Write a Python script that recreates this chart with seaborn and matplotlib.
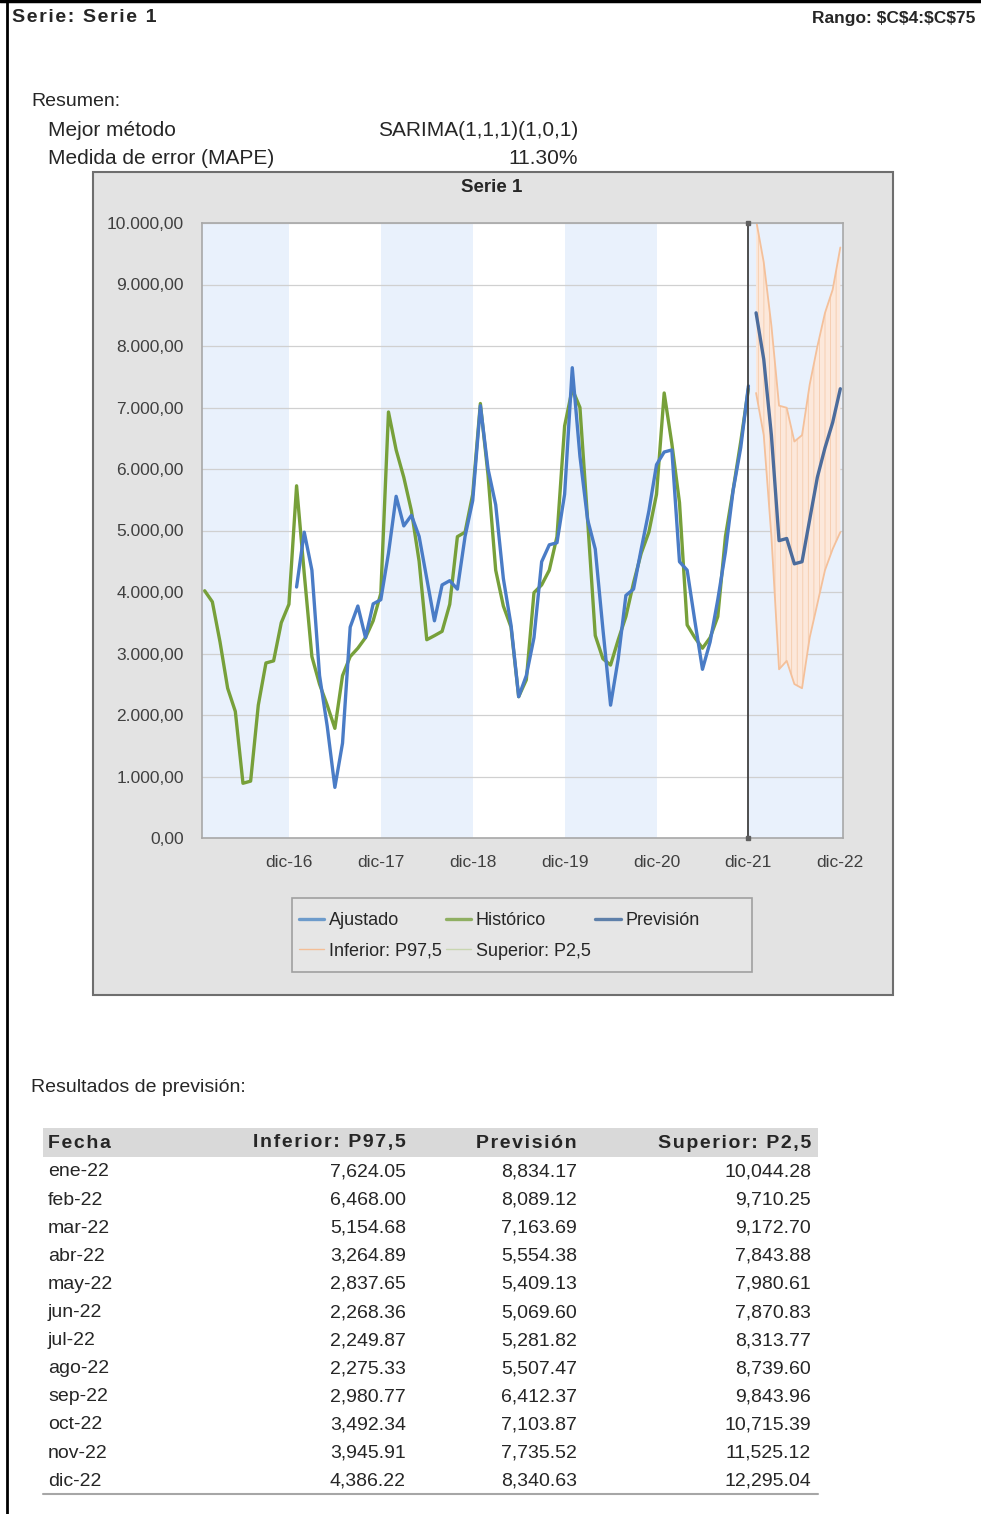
import numpy as np
import pandas as pd
import matplotlib
matplotlib.use("Agg")
import matplotlib.pyplot as plt
import seaborn as sns
from matplotlib.patches import Rectangle
from matplotlib.lines import Line2D
from matplotlib.ticker import FuncFormatter, FixedLocator, MultipleLocator
from matplotlib import font_manager

# ---------------- data ----------------
historico = [4020, 3840, 3190, 2435, 2058, 890, 925, 2160, 2846, 2880, 3500, 3800,
             5727, 4300, 2950, 2500, 2160, 1783, 2640, 2950, 3086, 3258, 3532, 3978,
             6927, 6310, 5864, 5316, 4500, 3224, 3290, 3360, 3800, 4900, 4973, 5590,
             7065, 5900, 4355, 3772, 3429, 2298, 2572, 3990, 4115, 4355, 4900, 6700,
             7300, 7000, 5178, 3292, 2915, 2812, 3224, 3600, 4150, 4630, 4973, 5590,
             7236, 6413, 5453, 3464, 3258, 3086, 3258, 3600, 4904, 5658, 6447, 7305]
ajustado = [4081, 4973, 4355, 2641, 1818, 823, 1543, 3429, 3772, 3258, 3807, 3875,
            4630, 5556, 5075, 5247, 4904, 4218, 3532, 4115, 4184, 4047, 4904, 5487,
            7030, 6001, 5418, 4218, 3464, 2298, 2641, 3258, 4492, 4767, 4801, 5590,
            7647, 6207, 5178, 4698, 3395, 2160, 2915, 3944, 4047, 4698, 5316, 6070,
            6276, 6310, 4492, 4355, 3532, 2743, 3189, 3875, 4650, 5650, 6350, 7350]
prevision = [8539, 7785, 6550, 4835, 4870, 4458, 4492, 5178, 5864, 6345, 6756, 7305]
inferior = [7236, 6550, 4904, 2743, 2880, 2503, 2435, 3258, 3807, 4355, 4698, 4973]
superior = [10050, 9362, 8333, 7030, 6996, 6447, 6550, 7373, 7990, 8539, 8916, 9602]

x_ticklabels = ["dic-16", "dic-17", "dic-18", "dic-19", "dic-20", "dic-21", "dic-22"]

tabla_fecha = ["ene-22", "feb-22", "mar-22", "abr-22", "may-22", "jun-22",
               "jul-22", "ago-22", "sep-22", "oct-22", "nov-22", "dic-22"]
tabla_inferior = [7624.05, 6468.00, 5154.68, 3264.89, 2837.65, 2268.36,
                  2249.87, 2275.33, 2980.77, 3492.34, 3945.91, 4386.22]
tabla_prevision = [8834.17, 8089.12, 7163.69, 5554.38, 5409.13, 5069.60,
                   5281.82, 5507.47, 6412.37, 7103.87, 7735.52, 8340.63]
tabla_superior = [10044.28, 9710.25, 9172.70, 7843.88, 7980.61, 7870.83,
                  8313.77, 8739.60, 9843.96, 10715.39, 11525.12, 12295.04]

# ---------------- styling ----------------
sns.set_theme(style="white")
plt.rcParams["font.family"] = ["Liberation Sans", "DejaVu Sans"]
plt.rcParams["hatch.linewidth"] = 0.6

names = {f.name for f in font_manager.fontManager.ttflist}
narrow = "Liberation Sans Narrow" if "Liberation Sans Narrow" in names else None

W, H = 981, 1514
fig = plt.figure(figsize=(W / 100, H / 100), dpi=100)
fig.patch.set_facecolor("white")


def fx(x):
    return x / W


def fy(y):
    return 1 - y / H


def spaced(s):
    return "\u200a".join(s)


# page borders
fig.add_artist(Line2D([fx(7), fx(7)], [0, 1], color="black", lw=2, transform=fig.transFigure))
fig.add_artist(Line2D([0, 1], [fy(1), fy(1)], color="black", lw=2.5, transform=fig.transFigure))

# header
if narrow:
    hfam = [narrow, "Liberation Sans", "DejaVu Sans"]
    fig.text(fx(12), fy(18), spaced("Serie: Serie 1"), fontsize=15, fontweight="bold",
             family=hfam, ha="left", va="center", parse_math=False)
    fig.text(fx(975), fy(18), spaced("Rango: $C$4:$C$75"), fontsize=15, fontweight="bold",
             family=hfam, ha="right", va="center", parse_math=False)
else:
    fig.text(fx(12), fy(18), spaced("Serie: Serie 1"), fontsize=14, fontweight="bold",
             ha="left", va="center", parse_math=False)
    fig.text(fx(975), fy(18), "Rango: $C$4:$C$75", fontsize=12.5, fontweight="bold",
             ha="right", va="center", parse_math=False)

fs = 14
fs2 = 15
fig.text(fx(31), fy(102), "Resumen:", fontsize=fs, ha="left", va="center")
fig.text(fx(48), fy(130), "Mejor método", fontsize=fs2, ha="left", va="center")
fig.text(fx(48), fy(158), "Medida de error (MAPE)", fontsize=fs2, ha="left", va="center")
fig.text(fx(578), fy(130), "SARIMA(1,1,1)(1,0,1)", fontsize=fs2, ha="right", va="center")
fig.text(fx(578), fy(158), "11.30%", fontsize=fs2, ha="right", va="center")

# chart frame
frame = Rectangle((fx(93), fy(995)), (893 - 93) / W, (995 - 172) / H, transform=fig.transFigure,
                  facecolor="#E3E3E3", edgecolor="#6E6E6E", lw=1.5, zorder=0.5)
fig.add_artist(frame)
fig.text(fx(492), fy(187), "Serie 1", fontsize=13.5, fontweight="bold", ha="center", va="center",
         color="#262626", zorder=3)

ax = fig.add_axes([fx(202), fy(838), (843 - 202) / W, (838 - 223) / H])
ax.set_zorder(2)
ax.set_facecolor("white")

n_hist = len(historico)
mes_hist = np.arange(n_hist)
mes_aj = np.arange(n_hist - len(ajustado), n_hist)
mes_prev = np.arange(n_hist, n_hist + len(prevision))

x_left, x_right = -0.35, 83.35
# alternating year bands
bounds = [x_left, 11, 23, 35, 47, 59, 71, x_right]
for k in range(len(bounds) - 1):
    if k % 2 == 0:
        ax.axvspan(bounds[k], bounds[k + 1], color="#E9F1FC", lw=0, zorder=0)

ax.set_xlim(x_left, x_right)
ax.set_ylim(0, 10000)
ax.yaxis.set_major_locator(MultipleLocator(1000))
ax.grid(axis="y", color="#D0D0D0", lw=0.9, zorder=0.5)
ax.set_axisbelow(True)

# forecast band
ax.fill_between(mes_prev, inferior, superior, facecolor="#FCE8DB", edgecolor="#F5CBAB",
                hatch="|||", lw=0, zorder=1)

df_band = pd.DataFrame({
    "mes": np.concatenate([mes_prev, mes_prev]),
    "valor": inferior + superior,
    "serie": ["Inferior: P97,5"] * len(inferior) + ["Superior: P2,5"] * len(superior),
})
sns.lineplot(data=df_band, x="mes", y="valor", hue="serie",
             palette={"Inferior: P97,5": "#F4C09A", "Superior: P2,5": "#F4C09A"},
             lw=1.3, legend=False, ax=ax, zorder=2)

df = pd.DataFrame({
    "mes": np.concatenate([mes_hist, mes_aj, mes_prev]),
    "valor": historico + ajustado + prevision,
    "serie": ["Histórico"] * n_hist + ["Ajustado"] * len(ajustado) + ["Previsión"] * len(prevision),
})
colors = {"Histórico": "#77A03A", "Ajustado": "#4A7CC6", "Previsión": "#4C6C9C"}
sns.lineplot(data=df, x="mes", y="valor", hue="serie", palette=colors,
             lw=2.4, legend=False, ax=ax, zorder=3)

ax.axvline(71, color="#404040", lw=1.3, zorder=4)
ax.plot([71, 71], [0, 10000], ls="none", marker="s", ms=3, color="#606060", zorder=4, clip_on=False)

ax.set_xlabel("")
ax.set_ylabel("")
ax.xaxis.set_major_locator(FixedLocator([11, 23, 35, 47, 59, 71, 83]))
ax.set_xticklabels(x_ticklabels)
ax.yaxis.set_major_formatter(FuncFormatter(
    lambda v, p: f"{v:,.2f}".replace(",", "X").replace(".", ",").replace("X", ".")))
ax.tick_params(axis="both", length=0, labelsize=12.5, colors="#404040")
ax.tick_params(axis="y", pad=13)
ax.tick_params(axis="x", pad=12)
for s in ax.spines.values():
    s.set_color("#A8A8A8")
    s.set_linewidth(1.2)

# legend box + legend
fig.add_artist(Rectangle((fx(292), fy(972)), (752 - 292) / W, (972 - 898) / H,
                         transform=fig.transFigure, facecolor="#E6E6E6", edgecolor="#A0A0A0",
                         lw=1.2, zorder=4))
handles = [
    Line2D([], [], color="#6D9BCB", lw=2.4),
    Line2D([], [], color="#F4BE96", lw=1.0),
    Line2D([], [], color="#8FAF62", lw=2.4),
    Line2D([], [], color="#C8D6B0", lw=1.0),
    Line2D([], [], color="#5E80AA", lw=2.4),
]
labels = ["Ajustado", "Inferior: P97,5", "Histórico", "Superior: P2,5", "Previsión"]
leg = fig.legend(handles, labels, loc="upper left", ncol=3,
                 bbox_to_anchor=(fx(299), fy(912)),
                 bbox_transform=fig.transFigure, fontsize=13, frameon=False,
                 handlelength=1.4, handletextpad=0.25, columnspacing=0.25, labelspacing=0.75,
                 borderpad=0, borderaxespad=0, labelcolor="#262626")
leg.set_zorder(5)

# table
fig.text(fx(31), fy(1088), "Resultados de previsión:", fontsize=fs, ha="left", va="center")
fig.add_artist(Rectangle((fx(43), fy(1157)), (818 - 43) / W, (1157 - 1128) / H,
                         transform=fig.transFigure, facecolor="#D9D9D9", edgecolor="none", zorder=1))
fig.add_artist(Line2D([fx(43), fx(818)], [fy(1494), fy(1494)], color="#A6A6A6", lw=1.5,
                      transform=fig.transFigure))
col_right = [406, 577, 811]
hy = 1143
fig.text(fx(48), fy(hy), spaced("Fecha"), fontsize=fs, fontweight="bold", ha="left", va="center", zorder=2)
for xr, t in zip(col_right, ["Inferior: P97,5", "Previsión", "Superior: P2,5"]):
    fig.text(fx(xr), fy(hy), spaced(t), fontsize=fs, fontweight="bold", ha="right", va="center", zorder=2)

for k, fe in enumerate(tabla_fecha):
    y = 1172 + 28.1 * k
    fig.text(fx(48), fy(y), fe, fontsize=fs, ha="left", va="center")
    for xr, vals in zip(col_right, [tabla_inferior, tabla_prevision, tabla_superior]):
        fig.text(fx(xr), fy(y), f"{vals[k]:,.2f}", fontsize=fs, ha="right", va="center")

fig.savefig("out.png", dpi=100)
